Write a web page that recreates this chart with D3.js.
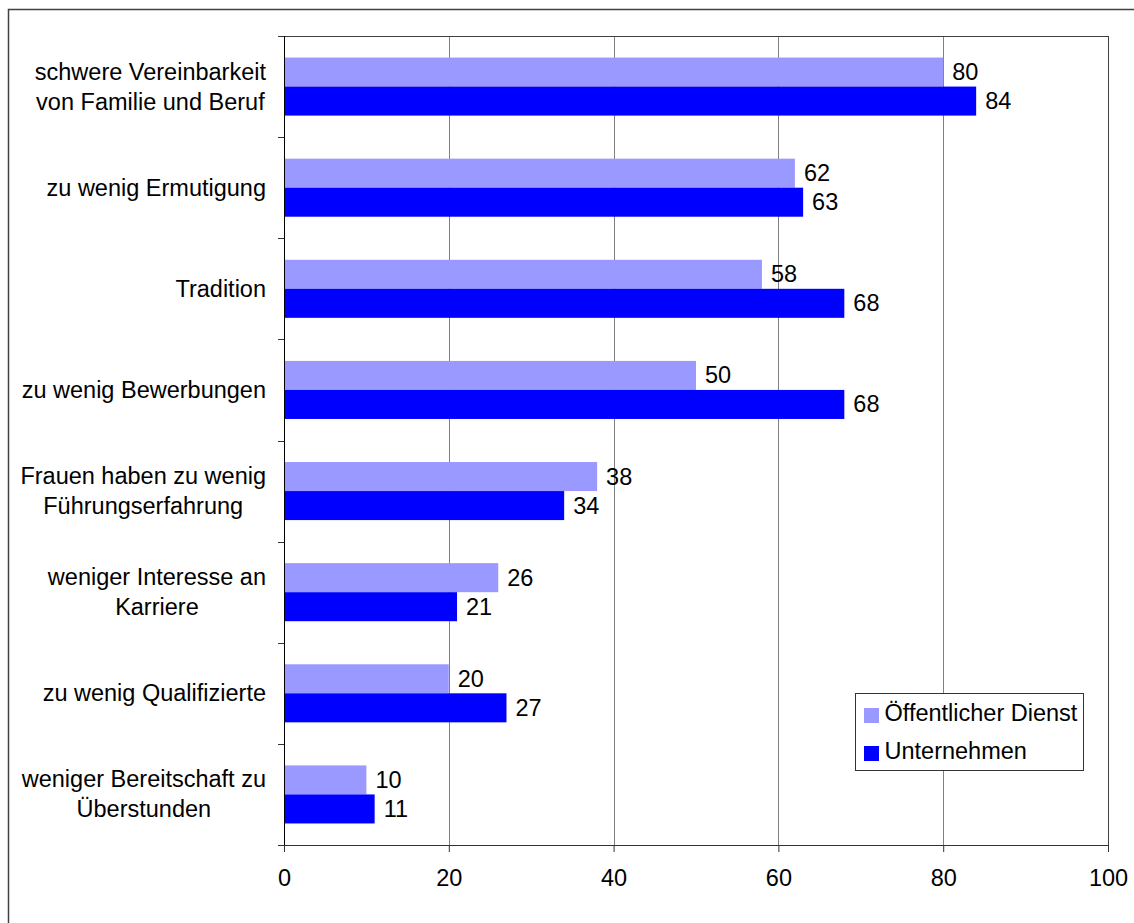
<!DOCTYPE html>
<html>
<head>
<meta charset="utf-8">
<script src="https://cdn.jsdelivr.net/npm/d3@7"></script>
<style>
  body { margin: 0; background: #fff; }
  svg text { font-family: "Liberation Sans", Arial, sans-serif; fill: #000; }
</style>
</head>
<body>
<div id="chart"></div>
<script>

// data
var categories = [
  "schwere Vereinbarkeit\nvon Familie und Beruf",
  "zu wenig Ermutigung",
  "Tradition",
  "zu wenig Bewerbungen",
  "Frauen haben zu wenig\nFührungserfahrung",
  "weniger Interesse an\nKarriere",
  "zu wenig Qualifizierte",
  "weniger Bereitschaft zu\nÜberstunden"
];
var seriesNames = ["Öffentlicher Dienst", "Unternehmen"];
var oeffentlich = [80, 62, 58, 50, 38, 26, 20, 10];
var unternehmen = [84, 63, 68, 68, 34, 21, 27, 11];
var xTicks = [0, 20, 40, 60, 80, 100];
var colors = ["#9999ff", "#0000ff"];

var fontSize = "23.5px";

// plot area
var margin = {top: 36, right: 26, bottom: 78, left: 284},
    W = 1134, H = 923,
    width = W - margin.left - margin.right,
    height = H - margin.top - margin.bottom;

var svg = d3.select("#chart")
  .append("svg")
    .attr("width", W)
    .attr("height", H);

// outer frame of the chart
svg.append("rect")
  .attr("x", 8.5).attr("y", 9.5)
  .attr("width", W + 20).attr("height", H + 20)
  .attr("fill", "none")
  .attr("stroke", "#404040")
  .attr("stroke-width", 1.5);

var g = svg.append("g")
  .attr("transform", "translate(" + margin.left + "," + margin.top + ")");

var x = d3.scaleLinear().domain([0, 100]).range([0, width]);

var y0 = d3.scaleBand()
  .domain(categories)
  .range([0, height]);

var bw = y0.bandwidth(),
    groupH = bw * 0.574;

var y1 = d3.scaleBand()
  .domain(seriesNames)
  .range([(bw - groupH) / 2, (bw + groupH) / 2]);

// grid lines
g.selectAll("line.grid")
  .data(xTicks.slice(1))
  .enter().append("line")
    .attr("class", "grid")
    .attr("x1", function(d) { return Math.round(x(d)) + 0.5; })
    .attr("x2", function(d) { return Math.round(x(d)) + 0.5; })
    .attr("y1", 0)
    .attr("y2", height)
    .attr("stroke", function(d) { return d == 100 ? "#404040" : "#808080"; })
    .attr("stroke-width", 1);

// top border of the plot
g.append("line")
  .attr("x1", 0).attr("x2", width)
  .attr("y1", 0.5).attr("y2", 0.5)
  .attr("stroke", "#404040");

// bars
var rows = categories.map(function(c, i) {
  return {cat: c, values: [
    {name: seriesNames[0], value: oeffentlich[i]},
    {name: seriesNames[1], value: unternehmen[i]}
  ]};
});

var groups = g.selectAll("g.cat")
  .data(rows)
  .enter().append("g")
    .attr("class", "cat")
    .attr("transform", function(d) { return "translate(0," + y0(d.cat) + ")"; });

groups.selectAll("rect")
  .data(function(d) { return d.values; })
  .enter().append("rect")
    .attr("x", x(0))
    .attr("y", function(d) { return y1(d.name); })
    .attr("width", function(d) { return x(d.value) - x(0); })
    .attr("height", y1.bandwidth())
    .attr("fill", function(d, i) { return colors[i]; });

// value labels
groups.selectAll("text.val")
  .data(function(d) { return d.values; })
  .enter().append("text")
    .attr("class", "val")
    .attr("x", function(d) { return x(d.value) + 9; })
    .attr("y", function(d) { return y1(d.name) + y1.bandwidth() / 2 + 8; })
    .style("font-size", fontSize)
    .text(function(d) { return d.value; });

// x axis
var xAxis = g.append("g")
  .attr("transform", "translate(0," + height + ")")
  .call(d3.axisBottom(x).tickValues(xTicks).tickSize(7).tickPadding(17).tickSizeOuter(0));
xAxis.select(".domain").attr("stroke", "#333");
xAxis.selectAll(".tick line").attr("stroke", "#333");
xAxis.selectAll("text")
  .style("font-size", fontSize)
  .attr("font-family", null);

// y axis: ticks at the category boundaries
var yAxis = g.append("g");
yAxis.append("line")
  .attr("x1", 0.5).attr("x2", 0.5)
  .attr("y1", 0).attr("y2", height)
  .attr("stroke", "#000");
yAxis.selectAll("line.tick")
  .data(d3.range(categories.length + 1))
  .enter().append("line")
    .attr("class", "tick")
    .attr("x1", -6).attr("x2", 0)
    .attr("y1", function(i) { return Math.round(i * y0.step()) + 0.5; })
    .attr("y2", function(i) { return Math.round(i * y0.step()) + 0.5; })
    .attr("stroke", "#333");

// category labels: block right aligned, lines centred inside it
var labelRight = -18;
categories.forEach(function(c) {
  var lines = c.split("\n");
  var t = g.append("text")
    .attr("text-anchor", "middle")
    .style("font-size", fontSize);
  var spans = lines.map(function(l, i) {
    return t.append("tspan")
      .attr("y", y0(c) + bw / 2 + 8 + (i - (lines.length - 1) / 2) * 30)
      .text(l);
  });
  var maxW = d3.max(spans, function(s) { return s.node().getComputedTextLength(); });
  spans.forEach(function(s) { s.attr("x", labelRight - maxW / 2); });
});

// legend
var legend = svg.append("g").attr("transform", "translate(855.5,693.5)");
legend.append("rect")
  .attr("width", 228).attr("height", 77)
  .attr("fill", "#fff")
  .attr("stroke", "#333");
seriesNames.forEach(function(n, i) {
  legend.append("rect")
    .attr("x", 8.5).attr("y", 14.5 + i * 38)
    .attr("width", 15).attr("height", 15)
    .attr("fill", colors[i]);
  legend.append("text")
    .attr("x", 29).attr("y", 27 + i * 38)
    .style("font-size", fontSize)
    .text(n);
});

</script>
</body>
</html>
